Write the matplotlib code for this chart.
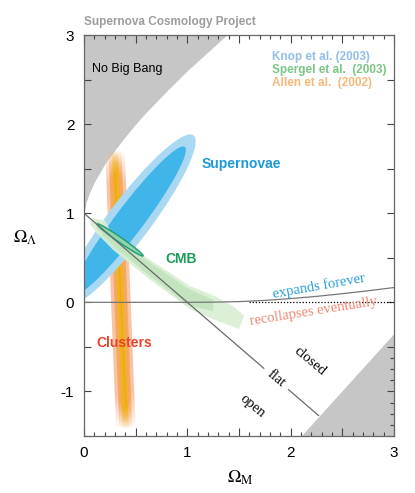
import numpy as np
import matplotlib
matplotlib.use('Agg')
import matplotlib.pyplot as plt
from matplotlib.patches import Ellipse, Polygon
from matplotlib.transforms import Affine2D
from matplotlib.ticker import MultipleLocator, FixedLocator, FuncFormatter

plt.rcParams['font.family'] = ['Liberation Sans', 'DejaVu Sans']
plt.rcParams['mathtext.fontset'] = 'stix'

# ---- data ----
# no big bang boundary (top left)
nbb_om = [0.0, 0.02, 0.05, 0.1, 0.2, 0.3, 0.4, 0.5, 0.6, 0.8, 1.0, 1.2, 1.4]
nbb_ol = [1.0, 1.12, 1.22, 1.35, 1.55, 1.71, 1.86, 2.0, 2.13, 2.37, 2.6, 2.81, 3.02]
# grey wedge bottom right
wedge_om = [2.11, 3.0, 3.0]
wedge_ol = [-1.5, -0.36, -1.5]
# expands forever / recollapses boundary
fate_om = [0.0, 1.0, 1.25, 1.5, 1.75, 2.0, 2.25, 2.5, 2.75, 3.0]
fate_ol = [0.0, 0.0, 0.002, 0.008, 0.022, 0.042, 0.067, 0.097, 0.13, 0.166]
# zero line (dotted part)
zero_om = [1.6, 3.0]
zero_ol = [0.0, 0.0]
# flat universe line, drawn in two pieces around the label
flat1_om = [0.0, 1.74]
flat1_ol = [1.0, -0.74]
flat2_om = [1.98, 2.27]
flat2_ol = [-0.98, -1.27]

# supernovae (Knop et al. 2003): center, semi axes (in Omega_M units), angle
sn_center = (0.44, 0.92)
sn_angle = 53
sn_semi_major = [1.03, 0.89]
sn_semi_minor = [0.205, 0.135]

# clusters (Allen et al. 2002): band top/bottom and center of band
clus_ol = [1.70, -1.42]
clus_om = [0.30, 0.405]
clus_halfwidth = [0.095, 0.062, 0.03]

# CMB (Spergel et al. 2003) outer band and inner region
cmb_outer_om = [0.08, 0.20, 0.28, 0.61, 1.03, 1.25, 1.45, 1.55,
                1.50, 1.25, 1.03, 0.61, 0.28, 0.12, 0.06]
cmb_outer_ol = [0.95, 0.92, 0.76, 0.50, 0.18, 0.08, -0.05, -0.15,
                -0.30, -0.19, -0.08, 0.28, 0.59, 0.78, 0.88]
cmb_inner_om = [0.12, 0.30, 0.61, 1.00, 1.25, 1.25, 1.00, 0.61, 0.30, 0.12]
cmb_inner_ol = [0.92, 0.74, 0.47, 0.16, 0.03, -0.10, -0.03, 0.32, 0.62, 0.84]
cmb_core_center = (0.35, 0.70)
cmb_core_axes = (0.27, 0.024)
cmb_core_angle = -34.8

fig = plt.figure(figsize=(4.15, 4.93), dpi=100)
ax = fig.add_axes([0.2024, 0.1156, 0.747, 0.8134])
ax.set_xlim(0, 3)
ax.set_ylim(-1.5, 3)

# pixel aspect for ellipses given in Omega_M units
px_x = 0.747 * 415 / 3.0
px_y = 0.8134 * 493 / 4.5
k = px_x / px_y

# grey regions
ax.fill_between(nbb_om, nbb_ol, 3.5, color='#c6c6c6', lw=0, zorder=1)
ax.fill(wedge_om, wedge_ol, color='#c6c6c6', lw=0, zorder=1)

# clusters, fading at both ends
clus_cols = ['#f9c4a4', '#f5a862', '#f2b41a']
fades = [0.12, 0.10, 0.08]
for hw, c, fd, z in zip(clus_halfwidth, clus_cols, fades, [2, 2.1, 2.2]):
    verts = [(clus_om[0] - hw, clus_ol[0]), (clus_om[0] + hw, clus_ol[0]),
             (clus_om[1] + hw, clus_ol[1]), (clus_om[1] - hw, clus_ol[1])]
    poly = Polygon(verts, closed=True, fc='none', ec='none')
    ax.add_patch(poly)
    t = np.linspace(0, 1, 300)
    a = np.clip(np.minimum(t, 1 - t) / fd, 0, 1)
    img = np.zeros((300, 1, 4))
    img[:, 0, :3] = matplotlib.colors.to_rgb(c)
    img[:, 0, 3] = a
    im = ax.imshow(img, extent=[clus_om[0] - hw, clus_om[1] + hw, clus_ol[1], clus_ol[0]],
                   origin='lower', aspect='auto', interpolation='bilinear', zorder=z)
    im.set_clip_path(poly)
ax.plot(clus_om, [clus_ol[0] - 0.25, clus_ol[1] + 0.25], color='#e99a2c', lw=0.8, alpha=0.6, zorder=2.3)

# supernovae
for a_, b_, c in zip(sn_semi_major, sn_semi_minor, ['#a9d8f2', '#3fb5e9']):
    tr = Affine2D().scale(1, k).translate(*sn_center) + ax.transData
    ax.add_patch(Ellipse((0, 0), 2 * a_, 2 * b_, angle=sn_angle, fc=c, ec='none',
                         transform=tr, zorder=3))

# CMB
ax.fill(cmb_outer_om, cmb_outer_ol, color='#d8efd4', lw=0, alpha=0.92, zorder=4)
ax.fill(cmb_inner_om, cmb_inner_ol, color='#bfe3bb', lw=0, alpha=0.85, zorder=4.1)
tr = Affine2D().scale(1, k).translate(*cmb_core_center) + ax.transData
ax.add_patch(Ellipse((0, 0), 2 * cmb_core_axes[0], 2 * cmb_core_axes[1], angle=cmb_core_angle,
                     fc='#8fd4ac', ec='#22a077', lw=1.1, transform=tr, zorder=4.2))

# lines
ax.plot(fate_om, fate_ol, color='#777777', lw=0.9, zorder=5)
ax.plot(zero_om, zero_ol, color='black', lw=0.9, ls=(0, (1, 1.5)), zorder=5)
ax.plot(flat1_om, flat1_ol, color='#6a6a6a', lw=0.9, zorder=5)
ax.plot(flat2_om, flat2_ol, color='#6a6a6a', lw=0.9, zorder=5)

# labels inside the plot
ax.text(0.08, 2.62, 'No Big Bang', fontsize=9, color='black', ha='left', va='center', zorder=6)
ax.text(1.52, 1.55, 'Supernovae', fontsize=10, fontweight='bold', color='#1b9ad8',
        ha='center', va='center', zorder=6)
ax.text(0.94, 0.49, 'CMB', fontsize=10, fontweight='bold', color='#1a9e58',
        ha='center', va='center', zorder=6)
ax.text(0.39, -0.46, 'Clusters', fontsize=10, fontweight='bold', color='#e8442c',
        ha='center', va='center', zorder=6)
ax.text(1.82, 2.75, 'Knop et al. (2003)', fontsize=8.5, fontweight='bold', color='#92bfe8',
        ha='left', va='center', zorder=6)
ax.text(1.82, 2.61, 'Spergel et al.  (2003)', fontsize=8.5, fontweight='bold', color='#7cc685',
        ha='left', va='center', zorder=6)
ax.text(1.82, 2.46, 'Allen et al.  (2002)', fontsize=8.5, fontweight='bold', color='#f7b87c',
        ha='left', va='center', zorder=6)

serif = 'Liberation Serif'
ax.text(2.27, 0.18, 'expands forever', family=serif, fontsize=10.5, color='#2a9fda',
        rotation=10, ha='center', va='center', zorder=6)
ax.text(2.22, -0.10, 'recollapses eventually', family=serif, fontsize=10.5, color='#f08674',
        rotation=9, ha='center', va='center', zorder=6)
ax.text(2.19, -0.66, 'closed', family=serif, fontsize=10.5, color='black',
        rotation=-40, ha='center', va='center', zorder=6)
ax.text(1.86, -0.86, 'flat', family=serif, fontsize=10.5, color='black',
        rotation=-40, ha='center', va='center', zorder=6)
ax.text(1.63, -1.17, 'open', family=serif, fontsize=10.5, color='black',
        rotation=-40, ha='center', va='center', zorder=6)

# axes look
for s in ax.spines.values():
    s.set_color('#666666')
    s.set_linewidth(0.9)
    s.set_zorder(7)
ax.xaxis.set_major_locator(MultipleLocator(0.5))
ax.xaxis.set_minor_locator(MultipleLocator(0.1))
ax.yaxis.set_major_locator(MultipleLocator(0.5))
ax.yaxis.set_minor_locator(FixedLocator([-1.375, -1.25, -1.125, -1.0, -0.875, -0.75, -0.625, -0.5]))
fmt = FuncFormatter(lambda v, p: '%d' % round(v) if abs(v - round(v)) < 1e-6 else '')
ax.xaxis.set_major_formatter(fmt)
ax.yaxis.set_major_formatter(fmt)
ax.tick_params(which='major', direction='in', length=6, width=0.8, color='#444444',
               labelsize=11, top=True, right=True, pad=7)
ax.tick_params(axis='x', which='minor', direction='in', length=3, width=0.8, color='#444444',
               top=True, bottom=True)
ax.tick_params(axis='y', which='minor', direction='in', length=3, width=0.8, color='#444444',
               left=False, right=True)
ax.tick_params(axis='y', which='major', length=5)

fig.text(84 / 415, 1 - 22 / 493, 'Supernova Cosmology Project', fontsize=8.5, fontweight='bold',
         color='#9c9c9c', ha='left', va='center')
fig.text(25 / 415, 1 - 238 / 493, r'$\Omega_\Lambda$', fontsize=13, ha='center', va='center')
fig.text(240 / 415, 1 - 478 / 493, r'$\Omega_{\rm M}$', fontsize=13, ha='center', va='center')

ax.set_xlim(0, 3)
ax.set_ylim(-1.5, 3)
fig.savefig('out.png', dpi=100)
